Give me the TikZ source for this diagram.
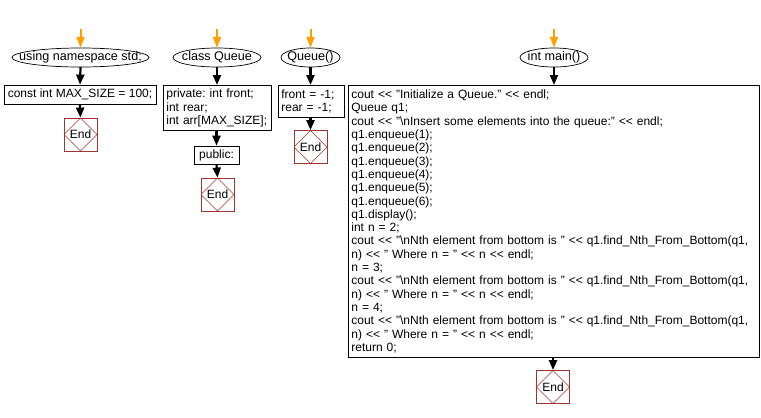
\documentclass[tikz,border=0pt]{standalone}
\usepackage{fontspec}
\setmainfont{Liberation Sans}[Ligatures=ResetAll]
\usetikzlibrary{shapes.geometric,arrows.meta}
\definecolor{endred}{HTML}{A33333}
\definecolor{startorange}{HTML}{FFA000}
\newcommand\shl{<\kern0pt<}
\tikzset{
  base/.style={font=\fontsize{12}{13.3}\selectfont\frenchspacing,line width=0.8pt},
  oval/.style={rectangle,inner sep=0pt,minimum height=19pt,font=\fontsize{12.6}{14}\selectfont\frenchspacing},
  ovalline/.style={draw,line width=0.7pt},
  codebox/.style={base,draw,rectangle,align=left,inner xsep=3pt,inner ysep=2pt,anchor=north west},
  endbox/.style={base,draw=endred,rectangle,minimum size=33pt,inner sep=0pt,
    path picture={\draw[endred,line width=0.6pt] (path picture bounding box.north) -- (path picture bounding box.east) -- (path picture bounding box.south) -- (path picture bounding box.west) -- cycle;}},
  flow/.style={line width=2.2pt,-{Triangle[width=8pt,length=10pt]}},
  startflow/.style={draw=startorange,line width=2pt,-{Triangle[width=8pt,length=11pt]}}
}
\begin{document}
\begin{tikzpicture}[x=1pt,y=-1pt]
\useasboundingbox (0,0) rectangle (761,418);
% column 1
\node[oval,minimum width=137pt] (e1) at (80.5,57.5) {using namespace std;};
\draw[ovalline] (e1.center) ellipse [x radius=68.5pt, y radius=9.5pt];
\node[base,draw,rectangle,minimum width=152pt,minimum height=19pt,inner sep=0pt] (b1) at (80,94.5) {const int MAX\_SIZE = 100;};
\node[endbox] (n1) at (80.5,134.5) {End};
\coordinate (s1) at (80.5,29);
\draw[startflow] (s1) -- (e1.north);
\draw[flow] (e1.south) -- (b1.north);
\draw[flow] (b1.south) -- (n1.north);
% column 2
\node[oval,minimum width=88pt] (e2) at (217,57.5) {class Queue};
\draw[ovalline] (e2.center) ellipse [x radius=44pt, y radius=9.5pt];
\node[codebox,minimum width=108pt,minimum height=45pt,text width=102pt] (b2) at (163,85) {private: int front;\\int rear;\\int arr[MAX\_SIZE];};
\node[base,draw,rectangle,minimum width=45pt,minimum height=18pt,inner sep=0pt] (b3) at (216.5,155) {public:};
\node[endbox] (n2) at (217.5,194.5) {End};
\coordinate (s2) at (217,29);
\draw[startflow] (s2) -- (e2.north);
\draw[flow] (e2.south) -- (b2.north -| e2.south);
\draw[flow] (b2.south -| b3.north) -- (b3.north);
\draw[flow] (b3.south) -- (n2.north);
% column 3
\node[oval,minimum width=59pt] (e3) at (310.5,57.5) {Queue()};
\draw[ovalline] (e3.center) ellipse [x radius=29.5pt, y radius=9.5pt];
\node[codebox,minimum width=66pt,minimum height=32pt,text width=60pt] (b4) at (278,85) {front = -1;\\rear = -1;};
\node[endbox] (n3) at (310.5,147) {End};
\coordinate (s3) at (310.5,29);
\draw[startflow] (s3) -- (e3.north);
\draw[flow] (e3.south) -- (b4.north -| e3.south);
\draw[flow] (b4.south -| n3.north) -- (n3.north);
% column 4
\node[oval,minimum width=68pt] (e4) at (554,57.5) {int main()};
\draw[ovalline] (e4.center) ellipse [x radius=34pt, y radius=9.5pt];
\node[codebox,minimum width=411pt,minimum height=272pt,text width=405pt] (b5) at (348,85) {cout \shl{} "Initialize a Queue." \shl{} endl;\\
Queue q1;\\
cout \shl{} "\textbackslash nInsert some elements into the queue:" \shl{} endl;\\
q1.enqueue(1);\\
q1.enqueue(2);\\
q1.enqueue(3);\\
q1.enqueue(4);\\
q1.enqueue(5);\\
q1.enqueue(6);\\
q1.display();\\
int n = 2;\\
cout \shl{} "\textbackslash nNth element from bottom is " \shl{} q1.find\_Nth\_From\_Bottom(q1,\\
n) \shl{} " Where n = " \shl{} n \shl{} endl;\\
n = 3;\\
cout \shl{} "\textbackslash nNth element from bottom is " \shl{} q1.find\_Nth\_From\_Bottom(q1,\\
n) \shl{} " Where n = " \shl{} n \shl{} endl;\\
n = 4;\\
cout \shl{} "\textbackslash nNth element from bottom is " \shl{} q1.find\_Nth\_From\_Bottom(q1,\\
n) \shl{} " Where n = " \shl{} n \shl{} endl;\\
return 0;};
\node[endbox] (n4) at (553,387) {End};
\coordinate (s4) at (554,29);
\draw[startflow] (s4) -- (e4.north);
\draw[flow] (e4.south) -- (b5.north -| e4.south);
\draw[flow] (b5.south -| n4.north) -- (n4.north);
\end{tikzpicture}
\end{document}
